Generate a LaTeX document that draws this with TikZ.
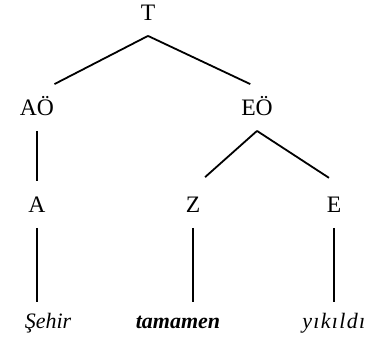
\documentclass[tikz,border=0pt]{standalone}
\usepackage{fontspec}
\setmainfont{Liberation Serif}

\tikzset{
  cat/.style={inner xsep=0pt, inner ysep=7.75pt, text height=7.5pt, text depth=0pt, anchor=base},
  word/.style={inner xsep=0pt, inner ysep=5.5pt, text height=7.5pt, text depth=0pt, anchor=base, font=\fontsize{11}{13}\selectfont\itshape},
  branch/.style={line width=0.9pt}
}

\begin{document}
\begin{tikzpicture}[x=0.5pt, y=-0.5pt, font=\fontsize{11.8}{13}\selectfont]
        \useasboundingbox (0,0) rectangle (366,345);
        % syntax tree: T splits into AÖ and EÖ
        \node[cat] (T) at (148,20) {T};
        \node[cat] (AOe) at (37,115) {AÖ};
        \node[cat] (EOe) at (257,115) {EÖ};
        \node[cat] (A) at (37,212) {A};
        \node[cat] (Z) at (193,212) {Z};
        \node[cat] (E) at (334,212) {E};

        \node[word] (sehir) at (48,328) {Şehir};
        \node[word] (tamamen) at (178,328) {\bfseries tamamen};
        \node[word, anchor=base west] (yikildi) at (302,328) {\addfontfeature{LetterSpace=6}yıkıldı};

        \draw[branch] (T.south) -- (AOe.north east);
        \draw[branch] (T.south) -- (EOe.106);
        \draw[branch] (AOe.south) -- (A.north);
        \draw[branch, shorten >=3pt] (EOe.south) -- (Z.north east);
        \draw[branch, shorten >=3pt] (EOe.south) -- (E.north);

        \draw[branch] (A.south) -- (A.south |- sehir.north);
        \draw[branch] (Z.south) -- (Z.south |- tamamen.north);
        \draw[branch] (E.south) -- (E.south |- yikildi.north);
\end{tikzpicture}
\end{document}
